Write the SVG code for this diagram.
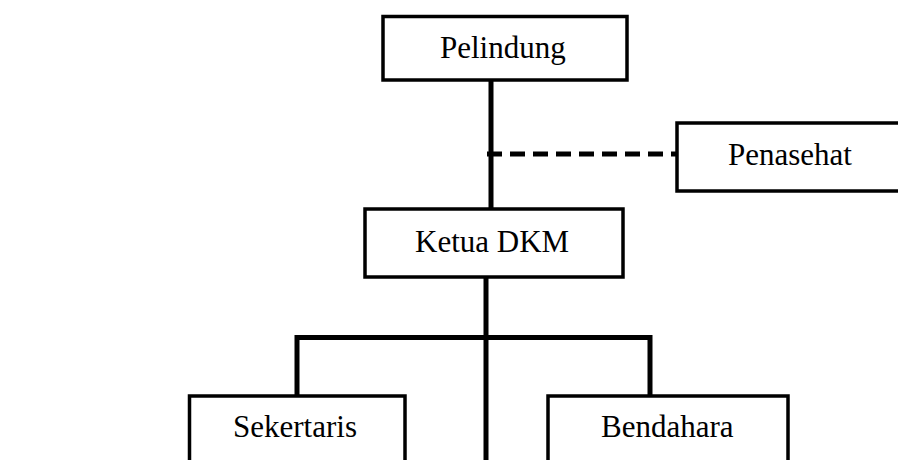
<svg xmlns="http://www.w3.org/2000/svg" width="898" height="460" viewBox="0 0 898 460">
<style>
.box{fill:#fff;stroke:#000;stroke-width:3.5}
.ln{stroke:#000;stroke-width:5;fill:none}
.dash{stroke:#000;stroke-width:5;stroke-dasharray:15 8;fill:none}
text{font-family:"Liberation Serif","Times New Roman",serif;font-size:31px;fill:#000}
</style>
<rect width="898" height="460" fill="#fff"/>
<g id="connectors">
<line class="ln" x1="491" y1="78" x2="491" y2="211"/>
<line class="dash" x1="487" y1="154" x2="677" y2="154"/>
<line class="ln" x1="486" y1="277" x2="486" y2="460"/>
<polyline class="ln" points="297,404 297,337.5 650,337.5 650,396"/>
</g>
<g id="pelindung">
<rect class="box" x="383" y="16.5" width="244" height="63.5"/>
<text x="440" y="58">Pelindung</text>
</g>
<g id="penasehat">
<rect class="box" x="677" y="123" width="240" height="68"/>
<text x="728" y="165">Penasehat</text>
</g>
<g id="ketua">
<rect class="box" x="365" y="209" width="258" height="68"/>
<text x="415" y="252">Ketua DKM</text>
</g>
<g id="sekertaris">
<rect class="box" x="189.5" y="396" width="215.5" height="80"/>
<text x="233" y="437">Sekertaris</text>
</g>
<g id="bendahara">
<rect class="box" x="548" y="396" width="240" height="80"/>
<text x="601" y="437">Bendahara</text>
</g>
</svg>
